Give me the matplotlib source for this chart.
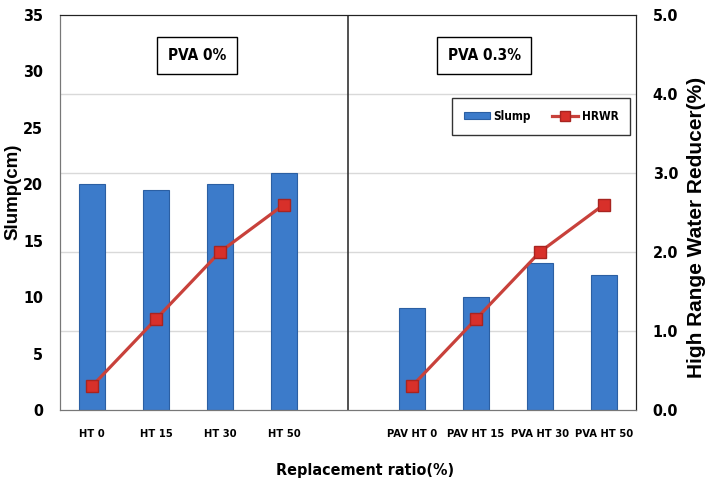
import matplotlib.pyplot as plt
import numpy as np
from matplotlib import font_manager

# pick a condensed bold face if one is installed
narrow = None
narrow_stretch = 'normal'
for f in font_manager.fontManager.ttflist:
    nm = f.name
    st = str(f.stretch)
    if 'Narrow' in nm or 'Condensed' in nm:
        narrow = nm
        break
    if st in ('condensed', 'semi-condensed', 'extra-condensed') or st in ('75', '87'):
        narrow = nm
        narrow_stretch = 'condensed'
        break
if narrow is None:
    narrow = 'Liberation Sans'
    shrink = 0.85
else:
    shrink = 1.0

labels = ['HT 0', 'HT 15', 'HT 30', 'HT 50', '', 'PAV HT 0', 'PAV HT 15', 'PVA HT 30', 'PVA HT 50']
slump = [20.0, 19.5, 20.0, 21.0, np.nan, 9.0, 10.0, 13.0, 12.0]
hrwr = [0.3, 1.15, 2.0, 2.6, np.nan, 0.3, 1.15, 2.0, 2.6]

x = np.arange(len(labels))
nf = dict(fontfamily=narrow, fontstretch=narrow_stretch, fontweight='bold')

fig = plt.figure(figsize=(7.05, 4.84), dpi=100)
ax = fig.add_axes([0.085, 0.153, 0.817, 0.816])
ax2 = ax.twinx()

for g in [1, 2, 3, 4]:
    ax.axhline(g * 7, color='#d9d9d9', lw=1, zorder=0)

bars = ax.bar(x, slump, width=0.41, color='#3c7bca', edgecolor='#2b5fa3', lw=0.8, label='Slump', zorder=2)
line, = ax2.plot(x, hrwr, color='#c8413b', lw=2.3, marker='s', markersize=8,
                 markerfacecolor='#d8302a', markeredgecolor='#a82420', label='HRWR', zorder=3)
ax.set_zorder(0)
ax2.set_zorder(1)
ax2.patch.set_visible(False)

ax.axvline(4, color='#333333', lw=1.2)

ax.set_xlim(-0.5, 8.5)
ax.set_ylim(0, 35)
ax2.set_ylim(0, 5)
ax.set_yticks(range(0, 36, 5))
ax2.set_yticks([0, 1, 2, 3, 4, 5])
ax2.set_yticklabels(['0.0', '1.0', '2.0', '3.0', '4.0', '5.0'])
ax.set_xticks([i for i in x if labels[i]])
ax.set_xticklabels([l for l in labels if l], fontsize=8 * shrink, **nf)
ax.tick_params(axis='x', length=0, pad=14)
ax.tick_params(axis='y', length=0, pad=12)
ax2.tick_params(axis='y', length=0, pad=12)
for t in ax.get_yticklabels() + ax2.get_yticklabels():
    t.set_fontfamily(narrow)
    t.set_fontstretch(narrow_stretch)
    t.set_fontweight('bold')
    t.set_fontsize(11.5 * shrink)

for s in ['left', 'bottom']:
    ax.spines[s].set_color('#777777')
    ax2.spines[s].set_color('#777777')
for s in ['top', 'right']:
    ax.spines[s].set_color('#222222')
    ax2.spines[s].set_color('#222222')

ax.set_ylabel('Slump(cm)', fontfamily='Liberation Sans', fontweight='bold', fontsize=13.5)
ax.yaxis.set_label_coords(-0.066, 0.552)
ax2.set_ylabel('High Range Water Reducer(%)', fontfamily='Liberation Sans', fontweight='bold', fontsize=15)
ax2.yaxis.set_label_coords(1.089, 0.463)
ax.set_xlabel('Replacement ratio(%)', fontsize=11.5 * shrink, **nf)
ax.xaxis.set_label_coords(0.53, -0.135)

box = dict(boxstyle='square,pad=0.7', facecolor='white', edgecolor='black', lw=1)
ax.text(1.64, 31.4, 'PVA 0%', ha='center', va='center', fontsize=11 * shrink, bbox=box, **nf)
ax.text(6.13, 31.4, 'PVA 0.3%', ha='center', va='center', fontsize=11 * shrink, bbox=box, **nf)

leg = ax2.legend([bars, line], ['Slump', 'HRWR'], loc='upper right', bbox_to_anchor=(0.99, 0.79),
                 ncol=2, frameon=True, fancybox=False, edgecolor='black', borderaxespad=0,
                 prop={'family': narrow, 'stretch': narrow_stretch, 'weight': 'bold', 'size': 8.5 * shrink},
                 handlelength=2.2, handleheight=0.5, handletextpad=0.3, columnspacing=1.8,
                 borderpad=1.0, markerscale=0.9)
leg.get_frame().set_linewidth(1)

fig.savefig('out.png', dpi=100)
